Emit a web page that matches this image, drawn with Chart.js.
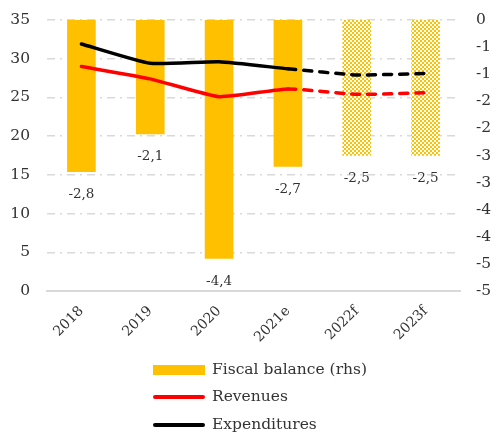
<!DOCTYPE html>
<html><head><meta charset="utf-8">
<script src="https://cdn.jsdelivr.net/npm/chart.js@4/dist/chart.umd.min.js"></script>
<style>html,body{margin:0;padding:0;background:#fff}#wrap{width:492px;height:435px}</style>
</head><body><div id="wrap"><canvas id="c" width="492" height="435"></canvas></div>
<script>
const categories = ['2018','2019','2020','2021e','2022f','2023f'];
const fiscalBalance = [-2.8,-2.1,-4.4,-2.7,-2.5,-2.5];
const revenues = [29.0,27.4,25.1,26.1,25.4,25.6];
const expenditures = [31.9,29.4,29.6,28.7,27.9,28.1];
const leftTicks = {min:0,max:35,step:5};
const rightTicks = {min:-5,max:0,step:0.5};
const forecastFrom = 3;

const FONT = 'DejaVu Serif';
const TXT = '#333';
const YEL = '#FFC000';

function makePattern(){
  const c=document.createElement('canvas'); c.width=4; c.height=4;
  const g=c.getContext('2d');
  g.fillStyle='#fff'; g.fillRect(0,0,4,4);
  g.fillStyle=YEL; g.fillRect(0,0,2,2); g.fillRect(2,2,2,2);
  return g.createPattern(c,'repeat');
}
const pat = makePattern();

const labelPlugin = {
  id:'barLabels',
  afterDatasetsDraw(chart){
    const ctx=chart.ctx;
    const meta=chart.getDatasetMeta(0);
    ctx.save();
    ctx.font='13.5px "'+FONT+'"';
    ctx.fillStyle=TXT; ctx.textAlign='center'; ctx.textBaseline='middle';
    meta.data.forEach((el,i)=>{
      const v=chart.data.datasets[0].data[i];
      ctx.fillText(v.toFixed(1).replace('.',','), el.x, el.y+23);
    });
    ctx.restore();
  }
};

const legendPlugin = {
  id:'customLegend',
  afterDraw(chart){
    const ctx=chart.ctx;
    const ds=chart.data.datasets;
    const x0=153, w=52, tx=212, rows=[370,397,425];
    ctx.save();
    ctx.font='15.5px "'+FONT+'"';
    ctx.fillStyle=TXT; ctx.textBaseline='middle'; ctx.textAlign='left';
    ctx.fillStyle=YEL; ctx.fillRect(x0,rows[0]-5,w,10);
    ctx.fillStyle=TXT; ctx.fillText(ds[0].label,tx,rows[0]);
    [1,2].forEach((k,j)=>{
      const y=rows[j+1];
      ctx.strokeStyle=ds[k].borderColor; ctx.lineWidth=4; ctx.lineCap='round';
      ctx.beginPath(); ctx.moveTo(x0+2,y); ctx.lineTo(x0+w-2,y); ctx.stroke();
      ctx.fillStyle=TXT; ctx.fillText(ds[k].label,tx,y);
    });
    ctx.restore();
  }
};

const dashSeg = ctx => ctx.p0DataIndex >= forecastFrom ? [8,8] : undefined;
const fixY = w => s => { s.width = w; s.paddingTop = 0; s.paddingBottom = 0; };

new Chart(document.getElementById('c'),{
  data:{
    labels:categories,
    datasets:[
      {type:'bar',label:'Fiscal balance (rhs)',data:fiscalBalance,yAxisID:'yR',order:5,
       backgroundColor:fiscalBalance.map((v,i)=>i>=forecastFrom+1?pat:YEL),
       barThickness:28,borderWidth:0},
      {type:'line',label:'Revenues',data:revenues,yAxisID:'y',order:1,
       borderColor:'#FF0000',borderWidth:3.5,pointRadius:0,tension:0.15,borderCapStyle:'round',
       segment:{borderDash:dashSeg}},
      {type:'line',label:'Expenditures',data:expenditures,yAxisID:'y',order:0,
       borderColor:'#000000',borderWidth:3.5,pointRadius:0,tension:0.15,borderCapStyle:'round',
       segment:{borderDash:dashSeg}}
    ]
  },
  options:{
    responsive:false,animation:false,
    layout:{padding:{top:20,bottom:84,left:0,right:0}},
    plugins:{legend:{display:false},tooltip:{enabled:false}},
    scales:{
      x:{
        grid:{display:false},
        border:{display:true,color:'#D9D9D9',width:2},
        ticks:{color:TXT,font:{family:FONT,size:14},maxRotation:45,minRotation:45,padding:4},
        afterFit(s){s.height=60; s.paddingLeft=0; s.paddingRight=0;}
      },
      y:{
        position:'left',min:leftTicks.min,max:leftTicks.max,
        ticks:{stepSize:leftTicks.step,color:TXT,font:{family:FONT,size:15.5},padding:17},
        grid:{color:'#D9D9D9',lineWidth:1.5,drawTicks:false},
        border:{display:false,dash:[8,5,2,5]},
        afterFit:fixY(47)
      },
      yR:{
        position:'right',min:rightTicks.min,max:rightTicks.max,
        ticks:{stepSize:rightTicks.step,color:TXT,font:{family:FONT,size:15.5},padding:16,
          callback:v=> v===0?'0':String(-Math.round(-v))},
        grid:{display:false,drawTicks:false},
        border:{display:false},
        afterFit:fixY(32)
      }
    }
  },
  plugins:[labelPlugin,legendPlugin]
});
</script></body></html>
